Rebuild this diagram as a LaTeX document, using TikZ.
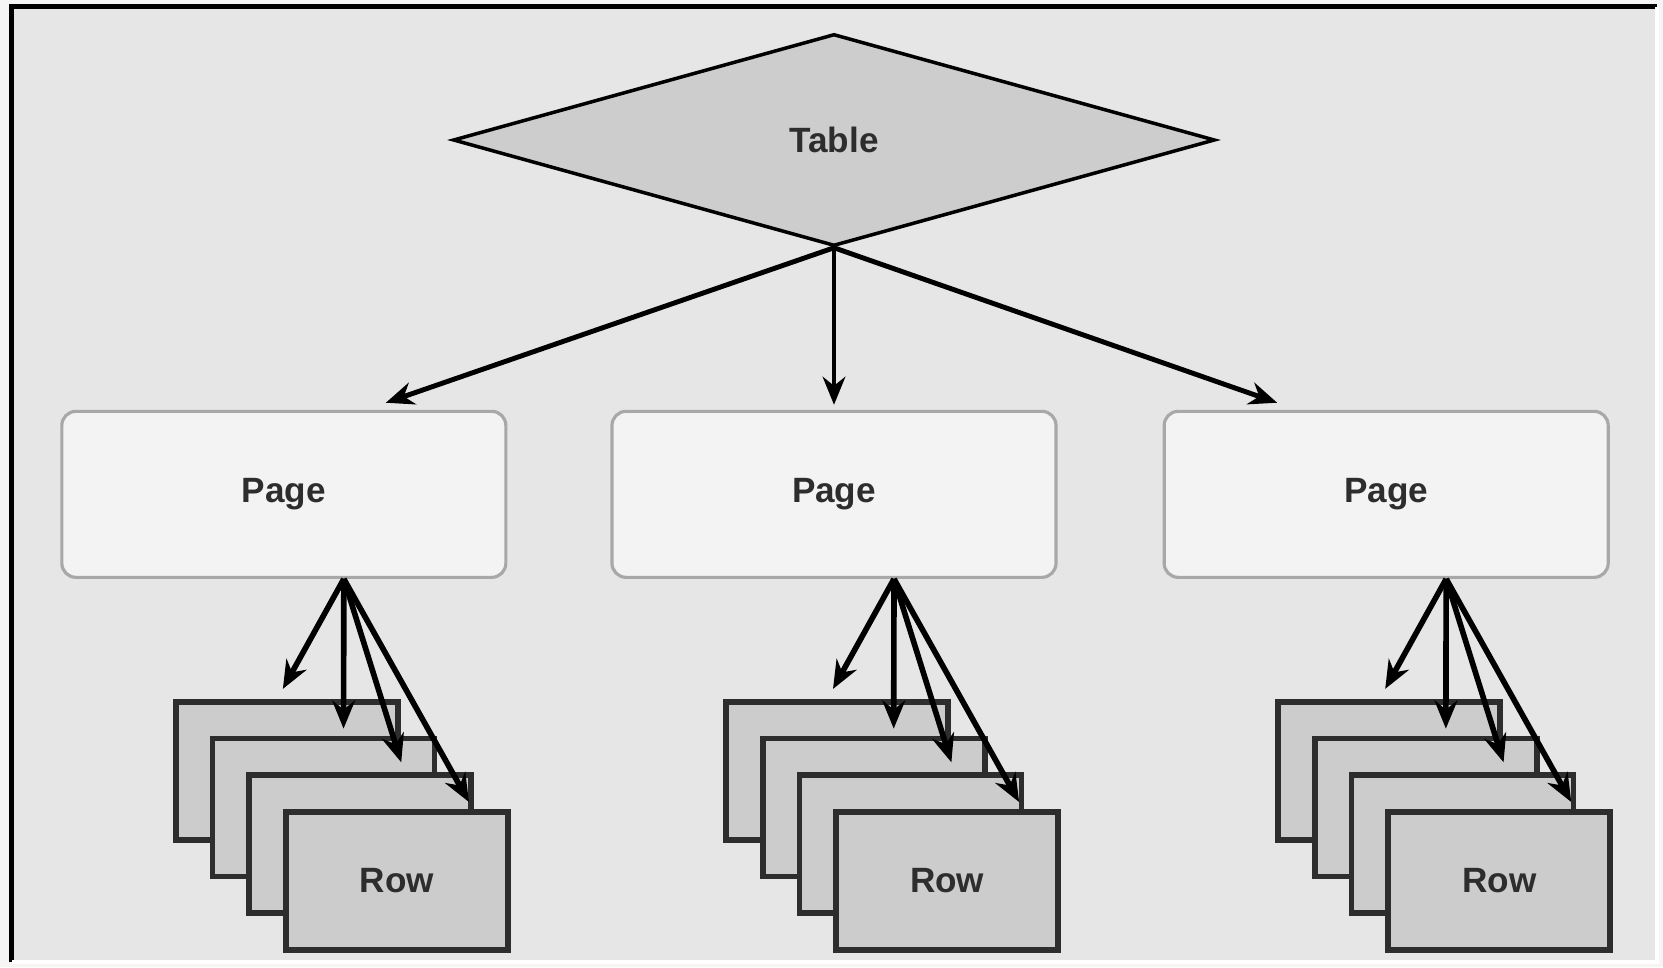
\documentclass[tikz,border=0pt]{standalone}
\usepackage{fontspec}
\setmainfont{Liberation Sans}
\usepackage{tikz}
\usetikzlibrary{arrows.meta, shapes.geometric, positioning}
\usepackage{xcolor}
\definecolor{bggray}{RGB}{230,230,230}
\definecolor{edgegray}{RGB}{245,245,245}
\definecolor{tblfill}{RGB}{205,205,205}
\definecolor{pgfill}{RGB}{243,243,243}
\definecolor{pgborder}{RGB}{168,168,168}
\definecolor{rowfill}{RGB}{204,204,204}
\definecolor{rowborder}{RGB}{45,45,45}
\definecolor{txtgray}{RGB}{45,45,45}

\begin{document}
\begin{tikzpicture}[
  every node/.style={font=\fontsize{10}{12}\selectfont\bfseries, text=txtgray},
  tbl/.style={diamond, draw=black, fill=tblfill, line width=1pt,
              minimum width=7.62cm, minimum height=2.12cm, inner sep=0pt},
  page/.style={draw=pgborder, fill=pgfill, rounded corners=4pt,
               minimum width=4.44cm, minimum height=1.66cm, line width=0.9pt},
  row/.style={draw=rowborder, fill=rowfill, line width=1.6pt,
              minimum width=2.22cm, minimum height=1.38cm},
  arr/.style={-{Stealth[length=8pt,width=6.5pt]}, line width=1.4pt, black},
  thinarr/.style={arr, line width=0.9pt},
  fanarr/.style={arr, line width=1.6pt}
]
\useasboundingbox (0,0) rectangle (16.63,-9.67);
\fill[edgegray] (0,0) rectangle (16.63,-9.67);
\fill[bggray] (0.09,-0.04) rectangle (16.57,-9.62);
\draw[line width=1.4pt] (0.115,-9.62) -- (0.115,-0.065) -- (16.57,-0.065);
\draw[white, line width=0.9pt] (16.57,-0.065) -- (16.57,-9.62) -- (0.115,-9.62);

\node[tbl] (table) at (8.34,-1.40) {Table};
\node[page, below=1.62cm of table] (pg2) {Page};
\node[page, left=1.03cm of pg2] (pg1) {Page};
\node[page, right=1.05cm of pg2] (pg3) {Page};

\node[row, below=1.20cm of pg1, xshift=0.03cm] (r1a) {};
\node[row] (r1b) at ([shift={(0.367,-0.367)}]r1a) {};
\node[row] (r1c) at ([shift={(0.367,-0.367)}]r1b) {};
\node[row] (r1d) at ([shift={(0.367,-0.367)}]r1c) {Row};
\node[row, below=1.20cm of pg2, xshift=0.03cm] (r2a) {};
\node[row] (r2b) at ([shift={(0.367,-0.367)}]r2a) {};
\node[row] (r2c) at ([shift={(0.367,-0.367)}]r2b) {};
\node[row] (r2d) at ([shift={(0.367,-0.367)}]r2c) {Row};
\node[row, below=1.20cm of pg3, xshift=0.03cm] (r3a) {};
\node[row] (r3b) at ([shift={(0.367,-0.367)}]r3a) {};
\node[row] (r3c) at ([shift={(0.367,-0.367)}]r3b) {};
\node[row] (r3d) at ([shift={(0.367,-0.367)}]r3c) {Row};

\draw[arr] (table.south) -- ([xshift=1.02cm,yshift=0.07cm]pg1.north);
\draw[thinarr] (table.south) -- ([yshift=0.05cm]pg2.north);
\draw[arr] (table.south) -- ([xshift=-1.09cm,yshift=0.07cm]pg3.north);

% each page fans out to its stack of rows
\coordinate (o1) at ([xshift=0.6cm]pg1.south);
\coordinate (o2) at ([xshift=0.6cm]pg2.south);
\coordinate (o3) at ([xshift=0.6cm]pg3.south);
\draw[fanarr] (o1) -- ([xshift=-0.04cm,yshift=0.10cm]r1a.north);
\draw[fanarr] (o1) -- ([xshift=0.20cm,yshift=0.07cm]r1b.north);
\draw[fanarr] (o1) -- ([xshift=0.41cm,yshift=0.10cm]r1c.north);
\draw[fanarr] (o1) -- ([xshift=0.72cm,yshift=0.07cm]r1d.north);
\draw[fanarr] (o2) -- ([xshift=-0.04cm,yshift=0.10cm]r2a.north);
\draw[fanarr] (o2) -- ([xshift=0.20cm,yshift=0.07cm]r2b.north);
\draw[fanarr] (o2) -- ([xshift=0.41cm,yshift=0.10cm]r2c.north);
\draw[fanarr] (o2) -- ([xshift=0.72cm,yshift=0.07cm]r2d.north);
\draw[fanarr] (o3) -- ([xshift=-0.04cm,yshift=0.10cm]r3a.north);
\draw[fanarr] (o3) -- ([xshift=0.20cm,yshift=0.07cm]r3b.north);
\draw[fanarr] (o3) -- ([xshift=0.41cm,yshift=0.10cm]r3c.north);
\draw[fanarr] (o3) -- ([xshift=0.72cm,yshift=0.07cm]r3d.north);
\end{tikzpicture}
\end{document}
